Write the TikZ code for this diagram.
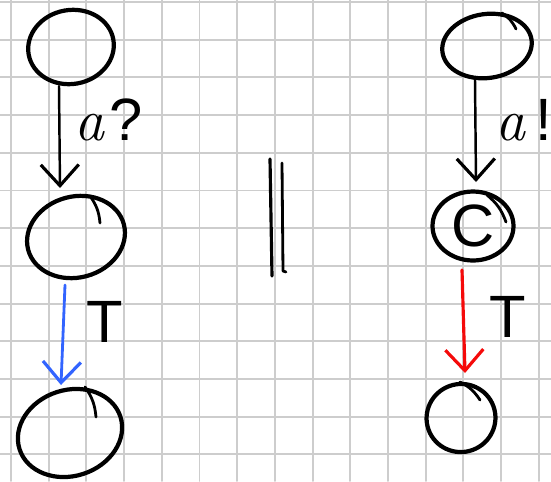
\documentclass[tikz,border=0pt]{standalone}
\usepackage{fontspec}
\setmainfont{Liberation Sans}
\newfontfamily\handit{Latin Modern Roman}
\usetikzlibrary{shapes.geometric,arrows.meta}
\definecolor{gridgray}{RGB}{205,205,205}
\definecolor{penblue}{RGB}{50,100,255}
\definecolor{penred}{RGB}{245,10,10}
\begin{document}
\begin{tikzpicture}[x=0.02cm,y=-0.02cm,line join=round,line cap=round,
	font=\fontsize{34}{40}\selectfont,
	state/.style={draw,ellipse,line width=2.4pt,inner sep=0pt},
	flick/.style={line width=1.6pt},
	trans/.style={line width=1.4pt,-{Straight Barb[length=0.42cm,width=0.76cm,line width=1.8pt]}},
	lbl/.style={anchor=base west,inner sep=0pt}]
	\useasboundingbox (0,0) rectangle (551,481);
	\clip (0,0) rectangle (551,481);
	\fill[white] (0,0) rectangle (551,481);
	\foreach \i in {0,1,...,14}{
		\draw[gridgray,line width=1.1pt] ({11+37.7*\i},0) -- ({11+37.7*\i},481);
	}
	\foreach \i in {0,1,...,12}{
		\draw[gridgray,line width=1.1pt] (0,{2+37.7*\i}) -- (551,{2+37.7*\i});
	}
	\node[state,minimum width=1.72cm,minimum height=1.48cm,rotate=10] (t1) at (71,47) {};
	\node[state,minimum width=1.98cm,minimum height=1.62cm,rotate=15] (m1) at (76,237) {};
	\node[state,minimum width=2.12cm,minimum height=1.72cm,rotate=18] (b1) at (70,433) {};
	\node[state,minimum width=1.8cm,minimum height=1.28cm,rotate=8] (t2) at (487,46) {};
	\node[state,minimum width=1.62cm,minimum height=1.38cm] (m2) at (473,226) {C};
	\node[state,minimum width=1.38cm,minimum height=1.36cm,rotate=20] (b2) at (461,418) {};
	\draw[flick] (90,196) to[bend left=15] (100,223);
	\draw[flick] (85,387) to[bend left=15] (96,417);
	\draw[flick] (502,13) to[bend left=15] (516,29);
	\draw[flick] (487,195) to[bend left=15] (506,222);
	\draw[flick] (460,382) to[bend left=15] (480,400);
	\draw[trans] ([shift={(-12,39)}]t1.center) -- ([shift={(-16,-49)}]m1.center);
	\draw[trans,penblue,line width=1.6pt] ([shift={(-11,48)}]m1.center) -- ([shift={(-9,-48)}]b1.center);
	\draw[trans] ([shift={(-12,34)}]t2.center) -- ([shift={(3,-44)}]m2.center);
	\draw[trans,penred,line width=1.8pt] ([shift={(-11,44)}]m2.center) -- ([shift={(4,-45)}]b2.center);
	\node[lbl] (q1) at (74,140) {{\handit\itshape a}\hspace{0.1cm}?};
	\node[lbl] (q2) at (495,140) {{\handit\itshape a}\hspace{0.2cm}!};
	\node[lbl] (l1) at (86,342) {T};
	\node[lbl] (l2) at (489,337) {T};
	\draw[line width=1.8pt] (270,159) -- (272,276);
	\draw[line width=1.6pt] (282,163) -- (283,271) -- (286,272);
\end{tikzpicture}
\end{document}
